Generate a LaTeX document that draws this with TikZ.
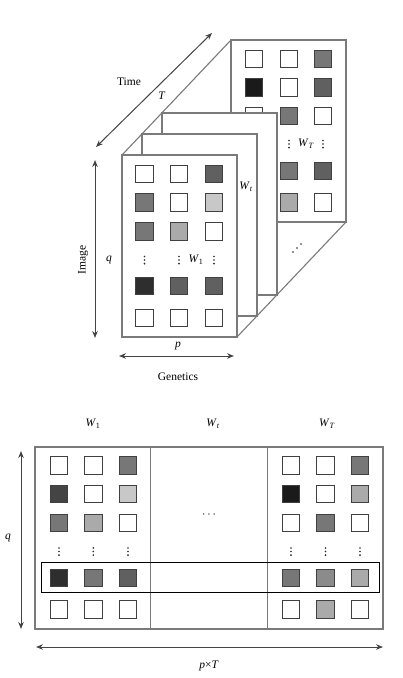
\documentclass[tikz,border=0pt]{standalone}
\usepackage{fontspec}
\setmainfont{Liberation Serif}
\usetikzlibrary{arrows.meta}

\definecolor{cA}{HTML}{1A1A1A}
\definecolor{cB}{HTML}{2E2E2E}
\definecolor{cC}{HTML}{444444}
\definecolor{cD}{HTML}{606060}
\definecolor{cE}{HTML}{777777}
\definecolor{cF}{HTML}{AAAAAA}
\definecolor{cG}{HTML}{C8C8C8}
\definecolor{edgegray}{HTML}{7A7A7A}
\definecolor{arrowgray}{HTML}{444444}

\newcommand{\iv}[1]{\textit{#1}}

\begin{document}
\begin{tikzpicture}
  [x=1pt,y=-1pt,font=\fontsize{11.5}{13}\selectfont,
   panel/.style={draw=edgegray,line width=1.1pt,fill=white},
   cell/.style={draw=black!75,line width=0.7pt,minimum size=17.5pt,inner sep=0pt},
   axis/.style={draw=arrowgray,line width=1pt,{Stealth[length=7pt,width=5.5pt]}-{Stealth[length=7pt,width=5.5pt]}},
   dotfill/.style={fill=black!85},
   lab/.style={inner sep=1pt}]
  \useasboundingbox (0,0) rectangle (402,678);

  % corners of the stack
  \coordinate (ftl) at (122,155);
  \coordinate (fbr) at (237,337);
  \coordinate (btl) at (231,40);
  \coordinate (bbr) at (346,222);

  % back panel W_T
  \draw[panel] (btl) rectangle (bbr);
  \foreach \y/\ca/\cb/\cc [count=\r] in {59/white/white/cE, 87.5/cA/white/cD, 116/white/cE/white,
                                        171/white/cE/cD, 202.5/white/cF/white}
    \foreach \x/\cl [count=\c] in {254/\ca, 289/\cb, 323/\cc}
      \node[cell,fill=\cl] (b\r\c) at (\x,\y) {};
  \foreach \x in {289,323}
    \foreach \k in {-3.6,0,3.6}
      \fill[dotfill] (\x,144+\k) circle (0.9);
  \node[lab] (wT) at (306,144) {\iv{W}\textsubscript{\iv{T}}};

  % edges of the stack
  \draw[edgegray,line width=1.1pt] (ftl) -- (btl);
  \draw[edgegray,line width=1.1pt] (fbr) -- (bbr);
  \foreach \i in {0,1,2}
    \fill[dotfill] (293+4*\i,252-4*\i) circle (0.9);

  % middle panels
  \draw[panel] (162,113) rectangle (277,295);
  \draw[panel] (142,134) rectangle (257,316);
  \node[lab] (wt) at (246,187) {\iv{W}\textsubscript{\iv{t}}};

  % front panel W_1
  \draw[panel] (ftl) rectangle (fbr);
  \foreach \y/\ca/\cb/\cc [count=\r] in {174/white/white/cD, 202.5/cE/white/cG, 231.5/cE/cF/white,
                                        286/cB/cD/cD, 318/white/white/white}
    \foreach \x/\cl [count=\c] in {144.5/\ca, 179/\cb, 214/\cc}
      \node[cell,fill=\cl] (f\r\c) at (\x,\y) {};
  \foreach \x in {144.5,179,214}
    \foreach \k in {-3.6,0,3.6}
      \fill[dotfill] (\x,260+\k) circle (0.9);
  \node[lab] (w1) at (196,260) {\iv{W}\textsubscript{1}};

  % axes of the stack
  \coordinate (t0) at (96,147);
  \coordinate (t1) at (212,33);
  \draw[axis] (t0) -- (t1);
  \node[lab] (time) at (129,82) {Time};
  \node[lab] (tT) at (162,96) {\iv{T}};

  \coordinate (i0) at (95,160);
  \coordinate (i1) at (95,338);
  \draw[axis] (i0) -- (i1);
  \node[lab,rotate=90] (image) at (83,260) {Image};
  \node[lab] (q1) at (109,260) {\iv{q}};

  \coordinate (g0) at (119,356);
  \coordinate (g1) at (234,356);
  \draw[axis] (g0) -- (g1);
  \node[lab] (p1) at (178,346) {\iv{p}};
  \node[lab] (gen) at (178,377) {Genetics};

  % unfolded matrix
  \node[lab] (m1) at (93,424) {\iv{W}\textsubscript{1}};
  \node[lab] (mt) at (213,424) {\iv{W}\textsubscript{\iv{t}}};
  \node[lab] (mT) at (327,424) {\iv{W}\textsubscript{\iv{T}}};

  \draw[panel] (35,447) rectangle (150.7,629);
  \draw[panel] (150.7,447) rectangle (267.3,629);
  \draw[panel] (267.3,447) rectangle (383,629);

  \foreach \y/\ca/\cb/\cc [count=\r] in {465.5/white/white/cE, 494/cC/white/cG, 523/cE/cF/white,
                                        578/cB/cE/cD, 609.5/white/white/white}
    \foreach \x/\cl [count=\c] in {59/\ca, 93.3/\cb, 128/\cc}
      \node[cell,fill=\cl] (l\r\c) at (\x,\y) {};
  \foreach \y/\ca/\cb/\cc [count=\r] in {465.5/white/white/cE, 494/cA/white/cF, 523/white/cE/white,
                                        578/cE/cE!85/cF, 609.5/white/cF/white}
    \foreach \x/\cl [count=\c] in {291/\ca, 325.5/\cb, 360/\cc}
      \node[cell,fill=\cl] (r\r\c) at (\x,\y) {};
  \foreach \x in {59,93.3,128,291,325.5,360}
    \foreach \k in {-3.6,0,3.6}
      \fill[dotfill] (\x,551.5+\k) circle (0.9);
  \node[lab] (mdots) at (209,515) {$\cdots$};

  % highlighted row
  \draw[black,line width=0.8pt] (41.7,562.7) rectangle (379.3,592);

  \coordinate (q0) at (21,451);
  \coordinate (q2) at (21,629);
  \draw[axis] (q0) -- (q2);
  \node[lab] (q3) at (8,538) {\iv{q}};

  \coordinate (pT0) at (36,647);
  \coordinate (pT1) at (383,647);
  \draw[axis] (pT0) -- (pT1);
  \node[lab] (pT) at (209,666) {\iv{p}×\iv{T}};
\end{tikzpicture}
\end{document}
